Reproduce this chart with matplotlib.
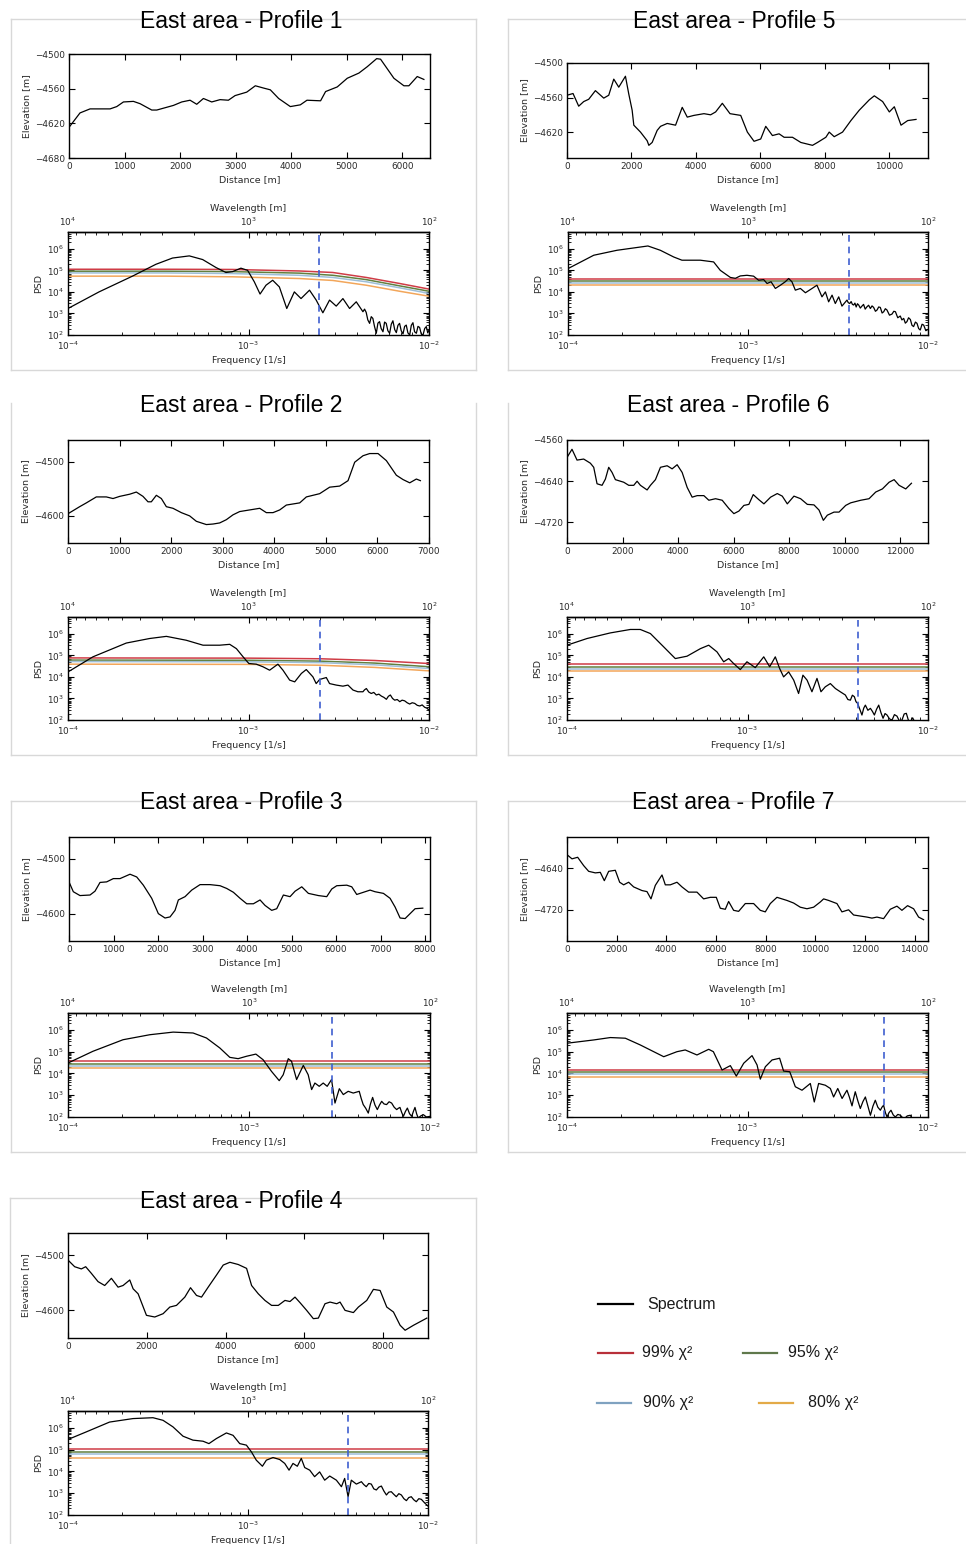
import numpy as np
import matplotlib
matplotlib.use("Agg")
import matplotlib.pyplot as plt
from matplotlib.lines import Line2D
from matplotlib.ticker import MultipleLocator, FixedLocator, LogLocator, NullFormatter

# ---------------------------------------------------------------- data
titles = {k: f"East area - Profile {k}" for k in range(1, 8)}

# elevation profiles: distance [m], elevation [m]
dist_1 = [0, 198, 379, 740, 860, 980, 1160, 1280, 1490, 1580, 1880, 2030, 2180, 2300, 2420, 2570, 2720, 2870, 2990, 3200,
          3355, 3505, 3625, 3775, 3985, 4165, 4285, 4530, 4620, 4830, 5010, 5220, 5370, 5540, 5610, 5850, 6030, 6120, 6270, 6390]
elev_1 = [-4627, -4602, -4595, -4595, -4591, -4583, -4582, -4586, -4597, -4597, -4589, -4583, -4580, -4587, -4577, -4583, -4579, -4580, -4572, -4566,
          -4555, -4559, -4562, -4577, -4591, -4588, -4580, -4581, -4565, -4557, -4542, -4533, -4522, -4508, -4509, -4542, -4555, -4555, -4539, -4544]

dist_2 = [0, 226, 356, 549, 743, 873, 1002, 1196, 1325, 1454, 1551, 1616, 1713, 1810, 1907, 2036, 2198, 2359, 2489, 2683,
          2812, 2941, 3070, 3200, 3329, 3523, 3717, 3846, 3975, 4105, 4234, 4363, 4493, 4622, 4880, 5074, 5268, 5430, 5559, 5721,
          5850, 6012, 6173, 6367, 6497, 6626, 6755, 6833]
elev_2 = [-4596, -4583, -4576, -4565, -4565, -4568, -4564, -4560, -4556, -4564, -4574, -4574, -4562, -4568, -4583, -4586, -4594, -4600, -4610, -4616,
          -4615, -4613, -4607, -4598, -4592, -4589, -4586, -4594, -4594, -4589, -4580, -4578, -4576, -4565, -4559, -4547, -4545, -4535, -4501, -4489,
          -4485, -4485, -4498, -4525, -4533, -4539, -4532, -4535]

dist_3 = [0, 97, 247, 472, 584, 697, 846, 996, 1146, 1371, 1521, 1670, 1858, 2007, 2157, 2270, 2382, 2457, 2607, 2757,
          2944, 3169, 3393, 3543, 3693, 3843, 3993, 4142, 4292, 4404, 4554, 4667, 4816, 4966, 5079, 5229, 5378, 5603, 5790, 5903,
          6015, 6240, 6352, 6464, 6614, 6764, 6876, 7064, 7213, 7326, 7438, 7551, 7663, 7775, 7948]
elev_3 = [-4542, -4560, -4567, -4566, -4559, -4543, -4542, -4536, -4536, -4528, -4533, -4548, -4572, -4600, -4608, -4606, -4594, -4575, -4569, -4557,
          -4547, -4547, -4549, -4554, -4561, -4572, -4582, -4582, -4575, -4585, -4594, -4591, -4566, -4569, -4559, -4551, -4563, -4567, -4569, -4555,
          -4549, -4548, -4551, -4565, -4561, -4557, -4560, -4563, -4572, -4588, -4608, -4609, -4600, -4591, -4590]

dist_4 = [0, 169, 339, 449, 593, 763, 932, 1102, 1271, 1398, 1568, 1653, 1780, 1992, 2203, 2415, 2585, 2754, 2966, 3110,
          3263, 3390, 3559, 3771, 3941, 4110, 4322, 4534, 4661, 4831, 5000, 5169, 5339, 5508, 5636, 5763, 5890, 6059, 6229, 6356,
          6525, 6653, 6822, 6907, 7034, 7246, 7373, 7585, 7754, 7924, 8093, 8263, 8432, 8559, 8771, 9110]
elev_4 = [-4509, -4521, -4525, -4521, -4533, -4548, -4555, -4542, -4558, -4555, -4545, -4561, -4570, -4609, -4612, -4606, -4594, -4591, -4576, -4559,
          -4573, -4576, -4558, -4536, -4518, -4513, -4517, -4524, -4555, -4570, -4582, -4591, -4591, -4582, -4584, -4576, -4586, -4600, -4615, -4614,
          -4588, -4585, -4588, -4585, -4600, -4604, -4594, -4582, -4562, -4564, -4594, -4603, -4627, -4636, -4627, -4614]

dist_5 = [0, 187, 363, 518, 674, 881, 1140, 1295, 1451, 1606, 1813, 1917, 2021, 2073, 2280, 2487, 2539, 2642, 2798, 2902,
          3109, 3368, 3575, 3731, 3938, 4249, 4456, 4611, 4819, 5057, 5389, 5596, 5803, 6010, 6166, 6373, 6580, 6736, 6995, 7254,
          7617, 7772, 8031, 8135, 8290, 8549, 8808, 9067, 9378, 9534, 9793, 10000, 10155, 10363, 10570, 10829]
elev_5 = [-4556, -4553, -4575, -4567, -4563, -4548, -4561, -4556, -4528, -4542, -4523, -4554, -4582, -4608, -4620, -4635, -4643, -4638, -4617, -4610,
          -4605, -4608, -4577, -4594, -4591, -4588, -4590, -4585, -4570, -4588, -4591, -4620, -4636, -4632, -4610, -4626, -4623, -4629, -4629, -4638,
          -4643, -4638, -4629, -4620, -4628, -4620, -4600, -4582, -4564, -4557, -4567, -4585, -4576, -4608, -4600, -4598]

dist_6 = [0, 180, 361, 601, 841, 962, 1082, 1262, 1382, 1502, 1623, 1743, 2043, 2224, 2404, 2524, 2644, 2885, 3005, 3185,
          3365, 3606, 3786, 3966, 4147, 4327, 4507, 4688, 4928, 5108, 5349, 5589, 5829, 6010, 6190, 6370, 6550, 6707, 6911, 7091,
          7332, 7572, 7752, 7933, 8173, 8413, 8654, 8894, 9075, 9231, 9375, 9615, 9796, 10036, 10216, 10577, 10877, 11118, 11358, 11599,
          11779, 11959, 12199, 12404]
elev_6 = [-4594, -4578, -4599, -4597, -4605, -4613, -4645, -4648, -4636, -4613, -4623, -4637, -4642, -4648, -4648, -4640, -4648, -4657, -4648, -4637,
          -4613, -4610, -4616, -4608, -4623, -4652, -4671, -4668, -4668, -4677, -4674, -4677, -4693, -4703, -4698, -4687, -4685, -4666, -4676, -4684,
          -4671, -4664, -4669, -4684, -4669, -4674, -4685, -4686, -4696, -4716, -4706, -4700, -4700, -4687, -4682, -4677, -4674, -4661, -4655, -4642,
          -4637, -4648, -4655, -4644]

dist_7 = [0, 201, 430, 671, 872, 1141, 1342, 1503, 1678, 1946, 2121, 2282, 2483, 2685, 3020, 3221, 3383, 3557, 3826, 3960,
          4161, 4430, 4631, 4899, 5235, 5503, 5772, 6013, 6174, 6376, 6510, 6711, 6913, 7181, 7517, 7785, 7987, 8188, 8456, 8658,
          8859, 9128, 9396, 9664, 9933, 10201, 10336, 10537, 10872, 11074, 11342, 11544, 11812, 12081, 12282, 12483, 12752, 13020, 13289, 13490,
          13718, 13960, 14161, 14362]
elev_7 = [-4614, -4622, -4619, -4635, -4646, -4649, -4648, -4664, -4646, -4644, -4667, -4672, -4667, -4676, -4683, -4685, -4699, -4673, -4653, -4672,
          -4672, -4667, -4676, -4686, -4686, -4699, -4696, -4696, -4717, -4719, -4704, -4721, -4723, -4708, -4708, -4721, -4724, -4708, -4696, -4699,
          -4702, -4707, -4715, -4718, -4715, -4705, -4699, -4702, -4708, -4724, -4720, -4730, -4732, -4734, -4736, -4734, -4737, -4719, -4713, -4721,
          -4712, -4718, -4734, -4739]

# power spectra as (log10 frequency [1/s], log10 PSD) pairs
psd_1 = [(-4.0, 3.23), (-3.828, 4.00), (-3.643, 4.73), (-3.513, 5.28), (-3.421, 5.57), (-3.328, 5.67), (-3.254, 5.50),
         (-3.180, 5.13), (-3.125, 4.90), (-3.088, 4.94), (-3.042, 5.10), (-3.005, 5.00), (-2.968, 4.47), (-2.936, 3.90),
         (-2.903, 4.31), (-2.866, 4.54), (-2.829, 4.23), (-2.788, 3.23), (-2.746, 4.00), (-2.709, 3.69), (-2.662, 4.08),
         (-2.625, 3.62), (-2.588, 3.03), (-2.551, 3.62), (-2.514, 3.34), (-2.477, 3.69), (-2.440, 3.23), (-2.403, 3.54),
         (-2.366, 3.08), (-2.357, 3.20), (-2.348, 3.05), (-2.339, 2.70), (-2.329, 2.54), (-2.320, 2.85), (-2.311, 2.77),
         (-2.302, 2.40), (-2.292, 2.08), (-2.283, 2.55), (-2.274, 2.62), (-2.265, 2.30), (-2.255, 2.15), (-2.246, 2.60),
         (-2.237, 2.54), (-2.228, 2.20), (-2.218, 2.08), (-2.209, 2.50), (-2.200, 2.66), (-2.190, 2.25), (-2.181, 2.11),
         (-2.172, 2.45), (-2.163, 2.54), (-2.154, 2.20), (-2.144, 2.05), (-2.135, 2.40), (-2.126, 2.46), (-2.117, 2.10),
         (-2.107, 2.00), (-2.098, 2.45), (-2.089, 2.57), (-2.080, 2.15), (-2.070, 2.08), (-2.061, 2.40), (-2.052, 2.35),
         (-2.043, 2.05), (-2.033, 2.00), (-2.024, 2.30), (-2.015, 2.39), (-2.007, 2.10), (-2.0, 2.23)]

psd_2 = [(-4.0, 4.23), (-3.862, 4.93), (-3.677, 5.57), (-3.548, 5.78), (-3.455, 5.88), (-3.345, 5.70), (-3.252, 5.47),
         (-3.160, 5.47), (-3.104, 5.51), (-3.067, 5.31), (-3.030, 4.93), (-2.998, 4.62), (-2.957, 4.59), (-2.920, 4.47),
         (-2.883, 4.31), (-2.837, 4.59), (-2.809, 4.31), (-2.772, 3.85), (-2.744, 3.77), (-2.707, 4.16), (-2.680, 4.34),
         (-2.643, 4.00), (-2.625, 3.69), (-2.606, 3.88), (-2.569, 3.97), (-2.551, 3.69), (-2.514, 3.62), (-2.477, 3.57),
         (-2.449, 3.62), (-2.421, 3.39), (-2.394, 3.31), (-2.366, 3.31), (-2.357, 3.40), (-2.347, 3.46), (-2.334, 3.30),
         (-2.320, 3.23), (-2.306, 3.28), (-2.292, 3.16), (-2.278, 3.20), (-2.264, 3.11), (-2.250, 3.05), (-2.236, 2.96),
         (-2.225, 3.10), (-2.214, 3.16), (-2.202, 3.00), (-2.190, 2.92), (-2.176, 2.95), (-2.162, 2.85), (-2.149, 2.92),
         (-2.135, 2.89), (-2.121, 2.80), (-2.107, 2.74), (-2.093, 2.80), (-2.079, 2.77), (-2.065, 2.68), (-2.051, 2.65),
         (-2.038, 2.70), (-2.024, 2.59), (-2.012, 2.55), (-2.0, 2.46)]

psd_3 = [(-4.0, 4.48), (-3.862, 5.02), (-3.696, 5.55), (-3.548, 5.78), (-3.419, 5.90), (-3.309, 5.86), (-3.235, 5.63),
         (-3.161, 5.17), (-3.106, 4.74), (-3.060, 4.68), (-3.014, 4.79), (-2.962, 4.89), (-2.922, 4.63), (-2.876, 4.10),
         (-2.833, 3.67), (-2.811, 3.94), (-2.783, 4.68), (-2.765, 4.56), (-2.737, 3.72), (-2.700, 4.37), (-2.673, 3.94),
         (-2.654, 3.26), (-2.636, 3.56), (-2.612, 3.41), (-2.590, 3.56), (-2.568, 3.41), (-2.544, 3.72), (-2.525, 2.64),
         (-2.501, 3.30), (-2.479, 3.03), (-2.452, 3.18), (-2.424, 3.10), (-2.391, 3.18), (-2.380, 2.85), (-2.369, 2.57),
         (-2.355, 2.40), (-2.341, 2.18), (-2.329, 2.60), (-2.317, 2.90), (-2.304, 2.55), (-2.291, 2.34), (-2.279, 2.55),
         (-2.267, 2.72), (-2.254, 2.60), (-2.240, 2.57), (-2.226, 2.70), (-2.212, 2.64), (-2.198, 2.45), (-2.184, 2.34),
         (-2.175, 2.40), (-2.166, 2.44), (-2.156, 2.20), (-2.147, 2.03), (-2.136, 2.25), (-2.125, 2.41), (-2.113, 2.15),
         (-2.101, 2.03), (-2.092, 2.25), (-2.083, 2.44), (-2.074, 2.15), (-2.065, 1.95), (-2.051, 2.05), (-2.037, 2.11),
         (-2.020, 2.00), (-2.0, 2.03)]

psd_4 = [(-4.0, 5.47), (-3.898, 5.82), (-3.769, 6.27), (-3.639, 6.43), (-3.528, 6.47), (-3.472, 6.35), (-3.417, 6.05),
         (-3.361, 5.62), (-3.306, 5.44), (-3.250, 5.39), (-3.217, 5.28), (-3.176, 5.51), (-3.120, 5.77), (-3.083, 5.66),
         (-3.046, 5.28), (-3.009, 5.21), (-2.981, 4.90), (-2.954, 4.52), (-2.920, 4.24), (-2.898, 4.52), (-2.861, 4.64),
         (-2.824, 4.55), (-2.796, 4.37), (-2.772, 4.06), (-2.750, 4.37), (-2.726, 4.24), (-2.704, 4.60), (-2.685, 4.18),
         (-2.657, 4.06), (-2.630, 3.76), (-2.602, 3.98), (-2.574, 3.60), (-2.546, 3.79), (-2.509, 3.60), (-2.481, 3.30),
         (-2.463, 3.68), (-2.444, 2.84), (-2.426, 3.60), (-2.398, 3.42), (-2.370, 3.53), (-2.357, 3.40), (-2.343, 3.30),
         (-2.329, 3.45), (-2.315, 3.42), (-2.301, 3.20), (-2.287, 3.15), (-2.273, 3.28), (-2.259, 3.33), (-2.245, 3.10),
         (-2.231, 2.92), (-2.218, 3.05), (-2.204, 3.07), (-2.190, 2.95), (-2.176, 2.84), (-2.162, 2.98), (-2.148, 2.92),
         (-2.134, 2.75), (-2.120, 2.66), (-2.107, 2.80), (-2.093, 2.84), (-2.079, 2.70), (-2.065, 2.61), (-2.051, 2.75),
         (-2.037, 2.72), (-2.018, 2.55), (-2.0, 2.41)]

psd_5 = [(-4.0, 5.08), (-3.857, 5.70), (-3.728, 5.93), (-3.556, 6.13), (-3.487, 5.93), (-3.413, 5.62), (-3.367, 5.47),
         (-3.265, 5.47), (-3.191, 5.39), (-3.154, 5.00), (-3.098, 4.67), (-3.070, 4.63), (-3.043, 4.74), (-3.006, 4.77),
         (-2.969, 4.73), (-2.941, 4.54), (-2.913, 4.57), (-2.894, 4.39), (-2.872, 4.47), (-2.848, 4.16), (-2.820, 4.31),
         (-2.793, 4.47), (-2.774, 4.62), (-2.756, 4.47), (-2.737, 4.08), (-2.709, 4.16), (-2.681, 3.96), (-2.644, 4.16),
         (-2.617, 4.31), (-2.589, 3.77), (-2.570, 4.00), (-2.552, 3.54), (-2.533, 3.85), (-2.515, 3.46), (-2.496, 3.77),
         (-2.478, 3.34), (-2.450, 3.62), (-2.443, 3.50), (-2.435, 3.46), (-2.427, 3.55), (-2.420, 3.42), (-2.413, 3.39),
         (-2.406, 3.48), (-2.399, 3.30), (-2.392, 3.45), (-2.385, 3.39), (-2.376, 3.25), (-2.367, 3.34), (-2.358, 3.42),
         (-2.349, 3.20), (-2.339, 3.31), (-2.330, 3.38), (-2.320, 3.23), (-2.311, 3.35), (-2.302, 3.28), (-2.292, 3.10),
         (-2.283, 3.16), (-2.274, 3.30), (-2.265, 3.28), (-2.255, 3.02), (-2.246, 3.08), (-2.237, 3.22), (-2.228, 3.16),
         (-2.214, 2.92), (-2.200, 2.97), (-2.190, 3.10), (-2.181, 3.08), (-2.168, 2.80), (-2.154, 2.88), (-2.145, 2.70),
         (-2.135, 2.77), (-2.126, 2.55), (-2.117, 2.62), (-2.108, 2.80), (-2.098, 2.72), (-2.089, 2.45), (-2.080, 2.39),
         (-2.070, 2.60), (-2.061, 2.54), (-2.052, 2.30), (-2.043, 2.23), (-2.033, 2.50), (-2.024, 2.46), (-2.012, 2.20),
         (-2.0, 2.26)]

psd_6 = [(-4.0, 5.47), (-3.889, 5.78), (-3.760, 6.04), (-3.649, 6.20), (-3.594, 6.20), (-3.538, 6.01), (-3.464, 5.39),
         (-3.400, 4.85), (-3.335, 4.96), (-3.261, 5.31), (-3.215, 5.47), (-3.169, 5.16), (-3.132, 4.70), (-3.104, 4.85),
         (-3.077, 4.62), (-3.040, 4.34), (-3.003, 4.70), (-2.957, 4.43), (-2.910, 4.93), (-2.877, 4.47), (-2.846, 4.93),
         (-2.822, 4.39), (-2.800, 4.00), (-2.772, 4.23), (-2.744, 3.85), (-2.717, 3.23), (-2.693, 4.08), (-2.670, 3.85),
         (-2.643, 3.31), (-2.615, 3.93), (-2.593, 3.31), (-2.569, 3.54), (-2.541, 3.69), (-2.513, 3.46), (-2.486, 3.31),
         (-2.458, 3.16), (-2.444, 2.95), (-2.430, 2.92), (-2.419, 3.15), (-2.408, 3.08), (-2.399, 2.85), (-2.390, 2.77),
         (-2.378, 2.50), (-2.366, 2.23), (-2.356, 2.55), (-2.347, 2.69), (-2.333, 2.45), (-2.319, 2.54), (-2.308, 2.40),
         (-2.297, 2.23), (-2.285, 2.50), (-2.273, 2.69), (-2.261, 2.35), (-2.249, 2.08), (-2.238, 2.30), (-2.227, 2.23),
         (-2.213, 2.05), (-2.199, 2.00), (-2.186, 2.25), (-2.172, 2.18), (-2.158, 1.95), (-2.144, 2.00), (-2.132, 2.28),
         (-2.120, 2.31), (-2.109, 2.00), (-2.098, 1.92), (-2.085, 2.10), (-2.070, 1.85), (-2.050, 1.75), (-2.033, 1.70),
         (-2.0, 1.77)]

psd_7 = [(-4.0, 5.39), (-3.852, 5.54), (-3.760, 5.65), (-3.677, 5.62), (-3.594, 5.31), (-3.464, 4.77), (-3.391, 5.00),
         (-3.345, 5.08), (-3.280, 4.85), (-3.215, 5.11), (-3.189, 5.00), (-3.141, 4.16), (-3.095, 4.36), (-3.062, 3.88),
         (-3.021, 4.47), (-2.975, 4.82), (-2.947, 4.39), (-2.929, 3.74), (-2.901, 4.31), (-2.864, 4.62), (-2.822, 4.70),
         (-2.800, 4.11), (-2.766, 4.08), (-2.735, 3.39), (-2.698, 3.23), (-2.652, 3.54), (-2.630, 2.69), (-2.606, 3.54),
         (-2.569, 3.46), (-2.541, 3.31), (-2.523, 2.92), (-2.500, 3.31), (-2.476, 2.85), (-2.462, 3.05), (-2.449, 3.23),
         (-2.435, 2.90), (-2.421, 2.51), (-2.412, 2.85), (-2.403, 3.16), (-2.389, 2.75), (-2.375, 2.39), (-2.361, 2.70),
         (-2.347, 2.92), (-2.333, 2.50), (-2.319, 2.08), (-2.305, 2.50), (-2.292, 2.77), (-2.278, 2.45), (-2.264, 2.31),
         (-2.255, 2.45), (-2.246, 2.54), (-2.236, 2.20), (-2.227, 2.00), (-2.216, 2.20), (-2.205, 2.31), (-2.193, 2.10),
         (-2.181, 2.00), (-2.167, 2.12), (-2.153, 2.08), (-2.142, 1.98), (-2.131, 1.92), (-2.115, 2.05), (-2.098, 2.08),
         (-2.085, 1.90), (-2.070, 1.85), (-2.0, 1.77)]

# chi-square confidence levels (log10 PSD) sampled at log10 frequency
chi_logf_1 = [-4.0, -3.458, -3.088, -2.718, -2.533, -2.348, -2.163, -2.0]
chi99_1 = [5.05, 5.05, 5.04, 4.97, 4.90, 4.67, 4.39, 4.13]
chi95_1 = [4.96, 4.96, 4.94, 4.87, 4.77, 4.57, 4.28, 4.03]
chi90_1 = [4.88, 4.88, 4.85, 4.77, 4.67, 4.47, 4.19, 3.93]
chi80_1 = [4.73, 4.73, 4.70, 4.62, 4.53, 4.31, 4.03, 3.80]

chi_logf_2 = [-4.0, -3.0, -2.6, -2.3, -2.0]
chi99_2 = [4.88, 4.87, 4.84, 4.76, 4.62]
chi95_2 = [4.78, 4.77, 4.73, 4.64, 4.47]
chi90_2 = [4.71, 4.70, 4.66, 4.56, 4.39]
chi80_2 = [4.59, 4.58, 4.54, 4.44, 4.28]

chi_logf_flat = [-4.0, -2.0]
chi99_3, chi95_3, chi90_3, chi80_3 = [4.56] * 2, [4.43] * 2, [4.36] * 2, [4.25] * 2
chi99_4, chi95_4, chi90_4, chi80_4 = [5.01] * 2, [4.90] * 2, [4.79] * 2, [4.64] * 2
chi99_5, chi95_5, chi90_5, chi80_5 = [4.62] * 2, [4.50] * 2, [4.39] * 2, [4.31] * 2
chi99_6, chi95_6, chi90_6, chi80_6 = [4.62] * 2, [4.47] * 2, [4.37] * 2, [4.27] * 2
chi99_7, chi95_7, chi90_7, chi80_7 = [4.16] * 2, [4.05] * 2, [3.96] * 2, [3.82] * 2

# log10 of the cut-off frequency (dashed line)
cutoff_logf = {1: -2.612, 2: -2.606, 3: -2.540, 4: -2.444, 5: -2.437, 6: -2.388, 7: -2.246}

legend_labels = ["Spectrum", "99% χ²", "95% χ²", "90% χ²", "80% χ²"]

# ---------------------------------------------------------------- assemble
elev_data = {1: (dist_1, elev_1), 2: (dist_2, elev_2), 3: (dist_3, elev_3), 4: (dist_4, elev_4),
             5: (dist_5, elev_5), 6: (dist_6, elev_6), 7: (dist_7, elev_7)}
psd_data = {1: psd_1, 2: psd_2, 3: psd_3, 4: psd_4, 5: psd_5, 6: psd_6, 7: psd_7}
chi_data = {
    1: (chi_logf_1, [chi99_1, chi95_1, chi90_1, chi80_1]),
    2: (chi_logf_2, [chi99_2, chi95_2, chi90_2, chi80_2]),
    3: (chi_logf_flat, [chi99_3, chi95_3, chi90_3, chi80_3]),
    4: (chi_logf_flat, [chi99_4, chi95_4, chi90_4, chi80_4]),
    5: (chi_logf_flat, [chi99_5, chi95_5, chi90_5, chi80_5]),
    6: (chi_logf_flat, [chi99_6, chi95_6, chi90_6, chi80_6]),
    7: (chi_logf_flat, [chi99_7, chi95_7, chi90_7, chi80_7]),
}

CHI_COLORS = ["#cf3c46", "#62803f", "#9ebfd8", "#f2a65a"]
LEG_COLORS = ["#b8303a", "#5f784b", "#7fa2c0", "#e3aa48"]
DASH_COLOR = "#3f5fcf"
TEXT_COLOR = "#2a2a2a"

# ---------------------------------------------------------------- figure
W, H = 966, 1544
plt.rcParams.update({
    "font.family": "DejaVu Sans",
    "font.size": 6.4,
    "text.color": TEXT_COLOR,
    "axes.labelcolor": TEXT_COLOR,
    "xtick.color": "black", "ytick.color": "black",
    "xtick.labelcolor": TEXT_COLOR, "ytick.labelcolor": TEXT_COLOR,
    "xtick.direction": "in", "ytick.direction": "in",
    "xtick.top": True, "ytick.right": True,
    "xtick.major.size": 4, "ytick.major.size": 4,
    "xtick.minor.size": 2, "ytick.minor.size": 2,
    "xtick.major.width": 0.8, "ytick.major.width": 0.8,
    "xtick.minor.width": 0.6, "ytick.minor.width": 0.6,
    "xtick.labelsize": 6.4, "ytick.labelsize": 6.4,
    "axes.labelsize": 6.8,
    "axes.labelpad": 3.0,
    "xtick.major.pad": 3.0, "ytick.major.pad": 3.0,
    "axes.linewidth": 1.0,
    "axes.edgecolor": "black",
})

fig = plt.figure(figsize=(W / 100, H / 100), dpi=100)
fig.patch.set_facecolor("white")


def add_axes_px(left, top, right, bottom):
    return fig.add_axes([left / W, 1 - bottom / H, (right - left) / W, (bottom - top) / H])


def fig_line(x0, y0, x1, y1, **kw):
    fig.add_artist(Line2D([x0 / W, x1 / W], [1 - y0 / H, 1 - y1 / H], transform=fig.transFigure, **kw))


def inv(v):
    v = np.asarray(v, dtype=float)
    out = np.full_like(v, np.inf)
    np.divide(1.0, v, out=out, where=v != 0)
    return out


# panel geometry in pixels: elevation axes, spectrum axes, title centre
layout = {
    1: dict(elev=(69, 54, 430, 158), psd=(68, 232, 429, 335), title=(241, 22)),
    5: dict(elev=(567, 63, 928, 158), psd=(568, 232, 928, 335), title=(734, 22)),
    2: dict(elev=(68, 440, 429, 543), psd=(68, 617, 429, 720), title=(241, 405)),
    6: dict(elev=(567, 440, 928, 543), psd=(567, 617, 928, 720), title=(728, 405)),
    3: dict(elev=(69, 837, 430, 941), psd=(68, 1013, 430, 1117), title=(241, 803)),
    7: dict(elev=(567, 837, 928, 941), psd=(567, 1013, 928, 1117), title=(733, 803)),
    4: dict(elev=(68, 1233, 428, 1338), psd=(68, 1411, 428, 1515), title=(241, 1201)),
}

elev_axes_cfg = {
    1: dict(xlim=(0, 6500), ylim=(-4680, -4500), xstep=1000, yticks=[-4680, -4620, -4560, -4500]),
    2: dict(xlim=(0, 7000), ylim=(-4650, -4460), xstep=1000, yticks=[-4600, -4500]),
    3: dict(xlim=(0, 8110), ylim=(-4650, -4460), xstep=1000, yticks=[-4600, -4500]),
    4: dict(xlim=(0, 9140), ylim=(-4650, -4460), xstep=2000, yticks=[-4600, -4500]),
    5: dict(xlim=(0, 11200), ylim=(-4665, -4500), xstep=2000, yticks=[-4620, -4560, -4500]),
    6: dict(xlim=(0, 13000), ylim=(-4760, -4560), xstep=2000, yticks=[-4720, -4640, -4560]),
    7: dict(xlim=(0, 14540), ylim=(-4780, -4580), xstep=2000, yticks=[-4720, -4640]),
}

# light frames around each panel
FRAME = dict(color="#d8d8d8", lw=1.0)
for (x0, x1) in [(11, 476), (508, 965)]:
    for (top, bottom, draw_top) in [(19, 370, True), (403, 755, False), (801, 1152, True)]:
        if draw_top:
            fig_line(x0, top, x1, top, **FRAME)
        fig_line(x0, bottom, x1, bottom, **FRAME)
        fig_line(x0, top, x0, bottom, **FRAME)
        if x1 < 960:
            fig_line(x1, top, x1, bottom, **FRAME)
fig_line(10, 1198, 476, 1198, **FRAME)
fig_line(10, 1198, 10, 1544, **FRAME)
fig_line(476, 1198, 476, 1544, **FRAME)

for k in range(1, 8):
    lay = layout[k]
    cfg = elev_axes_cfg[k]

    # ---- title
    tx, ty = lay["title"]
    fig.text(tx / W, 1 - ty / H, titles[k], ha="center", va="center",
             fontsize=16.5, family="Liberation Sans", color="black")

    # ---- elevation profile
    ax = add_axes_px(*lay["elev"])
    d, e = elev_data[k]
    ax.plot(d, e, color="black", lw=0.9)
    ax.set_xlim(*cfg["xlim"])
    ax.set_ylim(*cfg["ylim"])
    ax.xaxis.set_major_locator(MultipleLocator(cfg["xstep"]))
    ax.yaxis.set_major_locator(FixedLocator(cfg["yticks"]))
    ax.set_xlabel("Distance [m]")
    ax.set_ylabel("Elevation [m]")

    # ---- power spectrum
    axp = add_axes_px(*lay["psd"])
    lf, lp = zip(*psd_data[k])
    clf, levels = chi_data[k]
    for vals, col in zip(levels, CHI_COLORS):
        axp.plot(10 ** np.asarray(clf), 10 ** np.asarray(vals), color=col, lw=1.1)
    axp.plot(10 ** np.asarray(lf), 10 ** np.asarray(lp), color="black", lw=0.9)
    axp.axvline(10 ** cutoff_logf[k], color=DASH_COLOR, lw=1.2, ls=(0, (4, 3)))
    axp.set_xscale("log")
    axp.set_yscale("log")
    axp.set_xlim(1e-4, 1e-2)
    axp.set_ylim(1e2, 6e6)
    axp.xaxis.set_major_locator(FixedLocator([1e-4, 1e-3, 1e-2]))
    axp.yaxis.set_major_locator(FixedLocator([1e2, 1e3, 1e4, 1e5, 1e6]))
    axp.yaxis.set_minor_locator(LogLocator(base=10, subs=np.arange(2, 10), numticks=20))
    axp.yaxis.set_minor_formatter(NullFormatter())
    axp.xaxis.set_minor_formatter(NullFormatter())
    axp.tick_params(axis="x", which="both", top=False)
    axp.set_xlabel("Frequency [1/s]")
    axp.set_ylabel("PSD")

    sec = axp.secondary_xaxis("top", functions=(inv, inv))
    sec.xaxis.set_major_locator(FixedLocator([1e2, 1e3, 1e4]))
    sec.tick_params(which="both", direction="in")
    sec.xaxis.set_minor_formatter(NullFormatter())
    sec.set_xlabel("Wavelength [m]")

# ---------------------------------------------------------------- legend
LEG_FONT = dict(fontsize=11.5, family="Liberation Sans", color="#1a1a1a", va="center", ha="left")
legend_items = [
    (598, 633, 1304, "black", 647, legend_labels[0]),
    (598, 633, 1353, LEG_COLORS[0], 642, legend_labels[1]),
    (743, 777, 1353, LEG_COLORS[1], 788, legend_labels[2]),
    (597, 631, 1403, LEG_COLORS[2], 643, legend_labels[3]),
    (759, 793, 1403, LEG_COLORS[3], 808, legend_labels[4]),
]
for x0, x1, y, col, tx, lab in legend_items:
    fig_line(x0, y, x1, y, color=col, lw=1.6)
    fig.text(tx / W, 1 - y / H, lab, **LEG_FONT)

fig.savefig("out.png", dpi=100)
